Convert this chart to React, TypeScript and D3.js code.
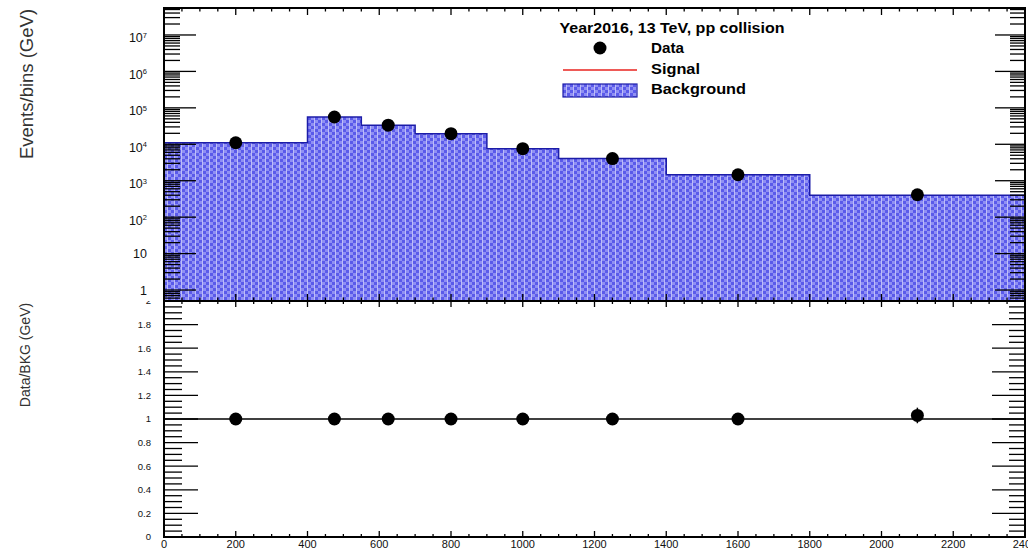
import React from "react";
import * as d3 from "d3";

// Histogram bins (GeV) and contents
const binEdges = [0, 400, 550, 700, 900, 1100, 1400, 1800, 2400];
const bkgCounts = [11000, 56000, 33500, 19500, 7600, 4050, 1460, 400];
const dataCounts = [11000, 56000, 33500, 19500, 7600, 4050, 1460, 412];
const ratioErrors = [0.01, 0.004, 0.006, 0.007, 0.012, 0.016, 0.026, 0.066];

const xMajorTicks = d3.range(0, 2401, 200);
const xMinorTicks = d3.range(0, 2401, 50);
const ratioMajorTicks = [0, 0.2, 0.4, 0.6, 0.8, 1, 1.2, 1.4, 1.6, 1.8, 2];
const ratioMinorTicks = d3.range(0, 2.0001, 0.05);
const logDecades = [0, 1, 2, 3, 4, 5, 6, 7];

const legendTitle = "Year2016, 13 TeV, pp collision";
const legendEntries = ["Data", "Signal", "Background"];

const W = 1028;
const H = 549;
const FONT = "'Liberation Sans', Arial, Helvetica, sans-serif";

const X0 = 164;
const X1 = 1025;
const UP_TOP = 8;
const UP_BOT = 301;
const LO_TOP = 301;
const LO_BOT = 537;

export default function App() {
  const x = d3.scaleLinear().domain([0, 2400]).range([X0, X1]);
  const yUp = d3.scaleLog().domain([0.5, 5.5e7]).range([UP_BOT, UP_TOP]);
  const yLo = d3.scaleLinear().domain([0, 2]).range([LO_BOT, LO_TOP]);

  const [yMinV, yMaxV] = yUp.domain();

  // all log minor ticks within the visible range
  const logTicks: { v: number; major: boolean }[] = [];
  for (let n = -1; n <= 7; n++) {
    for (let k = 1; k <= 9; k++) {
      const v = k * Math.pow(10, n);
      if (v >= yMinV && v <= yMaxV) logTicks.push({ v, major: k === 1 });
    }
  }

  // histogram outline path (step)
  const stepPts: [number, number][] = [];
  stepPts.push([x(binEdges[0]), yUp(yMinV)]);
  bkgCounts.forEach((c, i) => {
    stepPts.push([x(binEdges[i]), yUp(c)]);
    stepPts.push([x(binEdges[i + 1]), yUp(c)]);
  });
  stepPts.push([x(binEdges[binEdges.length - 1]), yUp(yMinV)]);
  const areaPath = d3.line()(stepPts) + "Z";
  const outlinePath = d3.line()(stepPts.slice(1, -1)) || "";

  const centers = bkgCounts.map((_, i) => (binEdges[i] + binEdges[i + 1]) / 2);
  const ratios = dataCounts.map((d, i) => d / bkgCounts[i]);

  const supLabel = (n: number) => {
    if (n === 0) return { base: "1", sup: "" };
    if (n === 1) return { base: "10", sup: "" };
    return { base: "10", sup: String(n) };
  };

  const axisStroke = "#000";

  return (
    <svg
      width={W}
      height={H}
      style={{ position: "absolute", left: 0, top: 0, background: "#fff" }}
      fontFamily={FONT}
    >
      <defs>
        <pattern id="bkgFill" width={7} height={6} patternUnits="userSpaceOnUse">
          <rect width={7} height={6} fill="#5a5aea" />
          <rect x={0} y={0} width={3} height={3} fill="#9090f3" />
          <rect x={3} y={3} width={3} height={3} fill="#9090f3" />
          <rect x={6} y={0} width={1} height={6} fill="#bcbcf9" />
        </pattern>
        <clipPath id="loClip">
          <rect x={0} y={LO_TOP} width={W} height={H - LO_TOP} />
        </clipPath>
      </defs>

      {/* Axis titles */}
      <text
        transform={`translate(33,84) rotate(-90)`}
        textAnchor="middle"
        fontSize={18.5}
        fill="#333"
      >
        Events/bins (GeV)
      </text>
      <text
        transform={`translate(29.5,355) rotate(-90)`}
        textAnchor="middle"
        fontSize={14}
        fill="#333"
      >
        Data/BKG (GeV)
      </text>

      {/* Upper pad: background histogram */}
      <path d={areaPath} fill="url(#bkgFill)" />
      <path d={outlinePath} fill="none" stroke="#1c1ca8" strokeWidth={1.5} />

      {/* Upper pad: data points */}
      {centers.map((c, i) => {
        const err = Math.sqrt(dataCounts[i]);
        return (
          <g key={"d" + i}>
            <line
              x1={x(c)}
              x2={x(c)}
              y1={yUp(dataCounts[i] + err)}
              y2={yUp(Math.max(dataCounts[i] - err, yMinV))}
              stroke="#000"
              strokeWidth={1.5}
            />
            <circle cx={x(c)} cy={yUp(dataCounts[i])} r={6.5} fill="#000" />
          </g>
        );
      })}

      {/* Upper pad: y ticks left and right */}
      {logTicks.map((t, i) => (
        <g key={"lt" + i}>
          <line
            x1={X0}
            x2={X0 + (t.major ? 32 : 16)}
            y1={yUp(t.v)}
            y2={yUp(t.v)}
            stroke={axisStroke}
            strokeWidth={1.3}
          />
          <line
            x1={X1}
            x2={X1 - (t.major ? 30 : 15)}
            y1={yUp(t.v)}
            y2={yUp(t.v)}
            stroke={axisStroke}
            strokeWidth={1.3}
          />
        </g>
      ))}
      {logDecades.map((n) => {
        const lab = supLabel(n);
        const yy = yUp(Math.pow(10, n));
        return (
          <text
            key={"ll" + n}
            x={147}
            y={yy + (lab.sup ? 7.5 : 4.5)}
            textAnchor="end"
            fontSize={12.5}
            fill="#111"
          >
            {lab.base}
            {lab.sup && (
              <tspan fontSize={7.5} dy={-4.5}>
                {lab.sup}
              </tspan>
            )}
          </text>
        );
      })}

      {/* Upper pad: x ticks top and bottom */}
      {xMinorTicks.map((v) => {
        const major = v % 200 === 0;
        const len = major ? 7 : 3.5;
        return (
          <g key={"ux" + v}>
            <line x1={x(v)} x2={x(v)} y1={UP_TOP} y2={UP_TOP + len} stroke={axisStroke} strokeWidth={1.3} />
            <line x1={x(v)} x2={x(v)} y1={UP_BOT} y2={UP_BOT - len} stroke={axisStroke} strokeWidth={1.3} />
          </g>
        );
      })}

      {/* Upper pad frame */}
      <rect
        x={X0}
        y={UP_TOP}
        width={X1 - X0}
        height={UP_BOT - UP_TOP}
        fill="none"
        stroke="#000"
        strokeWidth={2}
      />

      {/* Legend */}
      <text x={672} y={33} textAnchor="middle" fontSize={14} fontWeight="bold" textLength={225} lengthAdjust="spacingAndGlyphs">
        {legendTitle}
      </text>
      <circle cx={600} cy={48} r={6.5} fill="#000" />
      <line x1={563} x2={637} y1={70} y2={70} stroke="#e8231f" strokeWidth={1.5} />
      <rect x={563} y={84} width={74} height={13} fill="url(#bkgFill)" stroke="#1c1ca8" strokeWidth={1.2} />
      {legendEntries.map((e, i) => (
        <text
          key={e}
          x={651}
          y={53 + i * 20.5}
          fontSize={14}
          fontWeight="bold"
          textLength={[33, 49, 95][i]}
          lengthAdjust="spacingAndGlyphs"
        >
          {e}
        </text>
      ))}

      {/* Lower pad: reference line at ratio 1 */}
      <line x1={X0} x2={X1} y1={yLo(1)} y2={yLo(1)} stroke="#000" strokeWidth={1.5} />

      {/* Lower pad: ratio points */}
      {centers.map((c, i) => (
        <g key={"r" + i}>
          <line
            x1={x(c)}
            x2={x(c)}
            y1={yLo(ratios[i] + ratioErrors[i])}
            y2={yLo(ratios[i] - ratioErrors[i])}
            stroke="#000"
            strokeWidth={1.5}
          />
          <circle cx={x(c)} cy={yLo(ratios[i])} r={6.5} fill="#000" />
        </g>
      ))}

      {/* Lower pad: y ticks */}
      {ratioMinorTicks.map((v, i) => {
        const major = ratioMajorTicks.some((m) => Math.abs(m - v) < 1e-6);
        return (
          <g key={"ry" + i}>
            <line x1={X0} x2={X0 + (major ? 34 : 18)} y1={yLo(v)} y2={yLo(v)} stroke={axisStroke} strokeWidth={1.3} />
            <line x1={X1} x2={X1 - (major ? 33 : 16)} y1={yLo(v)} y2={yLo(v)} stroke={axisStroke} strokeWidth={1.3} />
          </g>
        );
      })}
      <g clipPath="url(#loClip)">
        {ratioMajorTicks.map((v) => (
          <text key={"rl" + v} x={151} y={yLo(v) + 3.3} textAnchor="end" fontSize={9.5} fill="#111">
            {String(v)}
          </text>
        ))}
      </g>

      {/* Lower pad: x ticks and labels */}
      {xMinorTicks.map((v) => {
        const major = v % 200 === 0;
        const len = major ? 6 : 3;
        return (
          <g key={"lx" + v}>
            <line x1={x(v)} x2={x(v)} y1={LO_TOP} y2={LO_TOP + len} stroke={axisStroke} strokeWidth={1.3} />
            <line x1={x(v)} x2={x(v)} y1={LO_BOT} y2={LO_BOT - len} stroke={axisStroke} strokeWidth={1.3} />
          </g>
        );
      })}
      {xMajorTicks.map((v) => (
        <text key={"xl" + v} x={x(v)} y={548} textAnchor="middle" fontSize={11} fill="#111">
          {String(v)}
        </text>
      ))}

      {/* Lower pad frame */}
      <rect
        x={X0}
        y={LO_TOP}
        width={X1 - X0}
        height={LO_BOT - LO_TOP}
        fill="none"
        stroke="#000"
        strokeWidth={2}
      />
    </svg>
  );
}
